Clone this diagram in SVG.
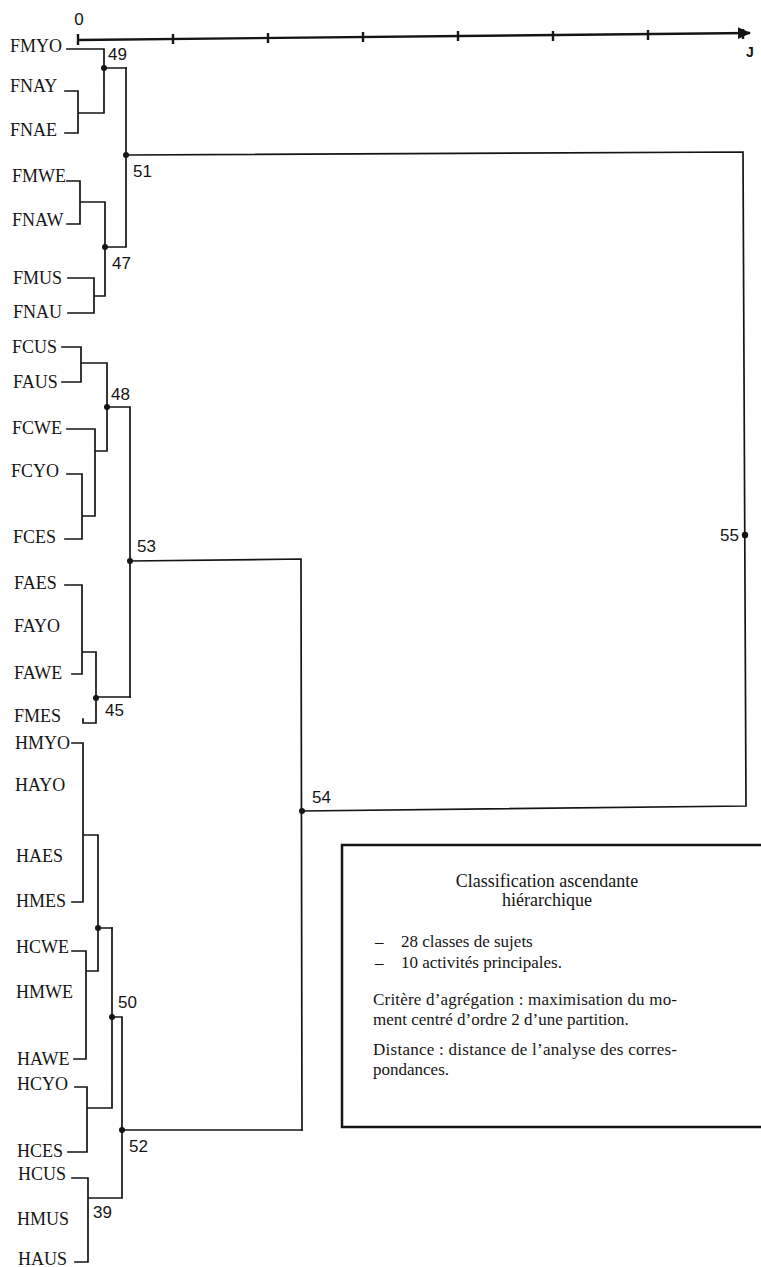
<svg xmlns="http://www.w3.org/2000/svg" width="761" height="1267" viewBox="0 0 761 1267">
<style>
.bg{fill:#fff}
.leaf{font-family:"Liberation Serif","Times New Roman",serif;font-size:18px;fill:#151515}
.num{font-family:"Liberation Sans",Arial,sans-serif;font-size:17px;fill:#151515}
.ln{fill:none;stroke:#151515;stroke-width:1.7;stroke-linecap:square}
.ax{fill:none;stroke:#151515;stroke-width:2.4}
.dot{fill:#151515}
.box{fill:none;stroke:#151515;stroke-width:2.5}
.bt{font-family:"Liberation Serif","Times New Roman",serif;font-size:17px;fill:#151515}
</style>
<defs>
<marker id="arr" markerWidth="14" markerHeight="14" refX="12" refY="6" orient="auto" markerUnits="userSpaceOnUse">
<path d="M0,0 L13,6 L0,12 Z" fill="#151515"/>
</marker>
</defs>
<rect class="bg" width="761" height="1267"/>

<g id="axis">
<path class="ax" d="M78,40 L750,33" marker-end="url(#arr)"/>
<path class="ax" d="M78,34 V45 M173,34 V44 M268,33 V43 M363,32 V42 M458,31 V41 M553,31 V41 M648,30 V40 M743,29 V39" stroke-width="1.4"/>
<text class="num" x="79" y="25" text-anchor="middle">0</text>
<text x="750" y="57" text-anchor="middle" style="font-family:'Liberation Sans',Arial,sans-serif;font-size:14px;font-weight:bold;fill:#151515">J</text>
</g>

<g id="connectors">
<path class="ln" d="M67,49 H104 M65,91 H78 V133 H65 M78,113 H104 M104,49 V113 M104,68 H126"/>
<path class="ln" d="M67,181 H80 V224 H67 M80,202 H105 M68,278 H94 V313 H68 M94,296 H105 M105,202 V296 M105,247 H126 M126,68 V247"/>
<path class="ln" d="M126,155 L743,152 L746,806 L302,811"/>
<path class="ln" d="M62,347 H81 V382 H62 M81,363 H107 M107,363 V451 M67,429 H95 V516 M67,474 H82 V539 H65 M82,516 H95 M95,451 H107 M107,407 H130 M130,407 V697"/>
<path class="ln" d="M65,585 H82 V674 H72 M82,652 H96 M83,719 V723 H96 M96,652 V723 M96,697 H130"/>
<path class="ln" d="M130,561 L301,559 L302,1130"/>
<path class="ln" d="M72,743 H83 V902 H72 M83,835 H98 M72,951 H86 V1059 H74 M86,971 H98 M98,835 V971 M98,928 H112"/>
<path class="ln" d="M75,1087 H87 V1152 H68 M87,1108 H112 M112,928 V1108 M112,1017 H122 M72,1178 H88 V1262 H75 M88,1198 H122 M122,1017 V1198 M122,1130 H302"/>
</g>

<g id="leaves">
<g id="leaf-FMYO"><text class="leaf" x="10" y="52">FMYO</text></g>
<g id="leaf-FNAY"><text class="leaf" x="10" y="92">FNAY</text></g>
<g id="leaf-FNAE"><text class="leaf" x="10" y="136">FNAE</text></g>
<g id="leaf-FMWE"><text class="leaf" x="12" y="182">FMWE</text></g>
<g id="leaf-FNAW"><text class="leaf" x="12" y="226">FNAW</text></g>
<g id="leaf-FMUS"><text class="leaf" x="13" y="284">FMUS</text></g>
<g id="leaf-FNAU"><text class="leaf" x="13" y="318">FNAU</text></g>
<g id="leaf-FCUS"><text class="leaf" x="12" y="353">FCUS</text></g>
<g id="leaf-FAUS"><text class="leaf" x="13" y="388">FAUS</text></g>
<g id="leaf-FCWE"><text class="leaf" x="12" y="434">FCWE</text></g>
<g id="leaf-FCYO"><text class="leaf" x="11" y="477">FCYO</text></g>
<g id="leaf-FCES"><text class="leaf" x="13" y="543">FCES</text></g>
<g id="leaf-FAES"><text class="leaf" x="14" y="589">FAES</text></g>
<g id="leaf-FAYO"><text class="leaf" x="14" y="632">FAYO</text></g>
<g id="leaf-FAWE"><text class="leaf" x="14" y="679">FAWE</text></g>
<g id="leaf-FMES"><text class="leaf" x="14" y="722">FMES</text></g>
<g id="leaf-HMYO"><text class="leaf" x="15" y="749">HMYO</text></g>
<g id="leaf-HAYO"><text class="leaf" x="15" y="791">HAYO</text></g>
<g id="leaf-HAES"><text class="leaf" x="16" y="862">HAES</text></g>
<g id="leaf-HMES"><text class="leaf" x="16" y="907">HMES</text></g>
<g id="leaf-HCWE"><text class="leaf" x="16" y="953">HCWE</text></g>
<g id="leaf-HMWE"><text class="leaf" x="16" y="998">HMWE</text></g>
<g id="leaf-HAWE"><text class="leaf" x="17" y="1065">HAWE</text></g>
<g id="leaf-HCYO"><text class="leaf" x="17" y="1090">HCYO</text></g>
<g id="leaf-HCES"><text class="leaf" x="17" y="1157">HCES</text></g>
<g id="leaf-HCUS"><text class="leaf" x="18" y="1180">HCUS</text></g>
<g id="leaf-HMUS"><text class="leaf" x="17" y="1225">HMUS</text></g>
<g id="leaf-HAUS"><text class="leaf" x="18" y="1265">HAUS</text></g>
</g>

<g id="merges">
<g id="node-49"><circle class="dot" cx="104" cy="68" r="3"/><text class="num" x="108" y="60">49</text></g>
<g id="node-51"><circle class="dot" cx="126" cy="155" r="3"/><text class="num" x="133" y="177">51</text></g>
<g id="node-47"><circle class="dot" cx="105" cy="247" r="3"/><text class="num" x="112" y="269">47</text></g>
<g id="node-48"><circle class="dot" cx="107" cy="407" r="3"/><text class="num" x="111" y="400">48</text></g>
<g id="node-53"><circle class="dot" cx="130" cy="561" r="3"/><text class="num" x="137" y="552">53</text></g>
<g id="node-45"><circle class="dot" cx="96" cy="698" r="3"/><text class="num" x="105" y="716">45</text></g>
<g id="node-54"><circle class="dot" cx="302" cy="811" r="3"/><text class="num" x="312" y="803">54</text></g>
<g id="node-55"><circle class="dot" cx="745" cy="535" r="3.2"/><text class="num" x="720" y="541">55</text></g>
<g id="node-hm"><circle class="dot" cx="98" cy="928" r="3"/></g>
<g id="node-50"><circle class="dot" cx="112" cy="1017" r="3"/><text class="num" x="118" y="1008">50</text></g>
<g id="node-52"><circle class="dot" cx="122" cy="1130" r="3"/><text class="num" x="129" y="1152">52</text></g>
<g id="node-39"><text class="num" x="93" y="1218">39</text></g>
</g>

<g id="legend">
<path class="box" d="M765,845 H342 V1127 H765"/>
<text class="bt" x="547" y="887" text-anchor="middle" style="font-size:18px">Classification ascendante</text>
<text class="bt" x="547" y="906" text-anchor="middle" style="font-size:18px">hiérarchique</text>
<text class="bt" x="375" y="947">–</text>
<text class="bt" x="401" y="947">28 classes de sujets</text>
<text class="bt" x="375" y="968">–</text>
<text class="bt" x="401" y="968">10 activités principales.</text>
<text class="bt" x="373" y="1005" textLength="304" lengthAdjust="spacing">Critère d’agrégation : maximisation du mo-</text>
<text class="bt" x="373" y="1025">ment centré d’ordre 2 d’une partition.</text>
<text class="bt" x="373" y="1055" textLength="304" lengthAdjust="spacing">Distance : distance de l’analyse des corres-</text>
<text class="bt" x="373" y="1075">pondances.</text>
</g>
</svg>
